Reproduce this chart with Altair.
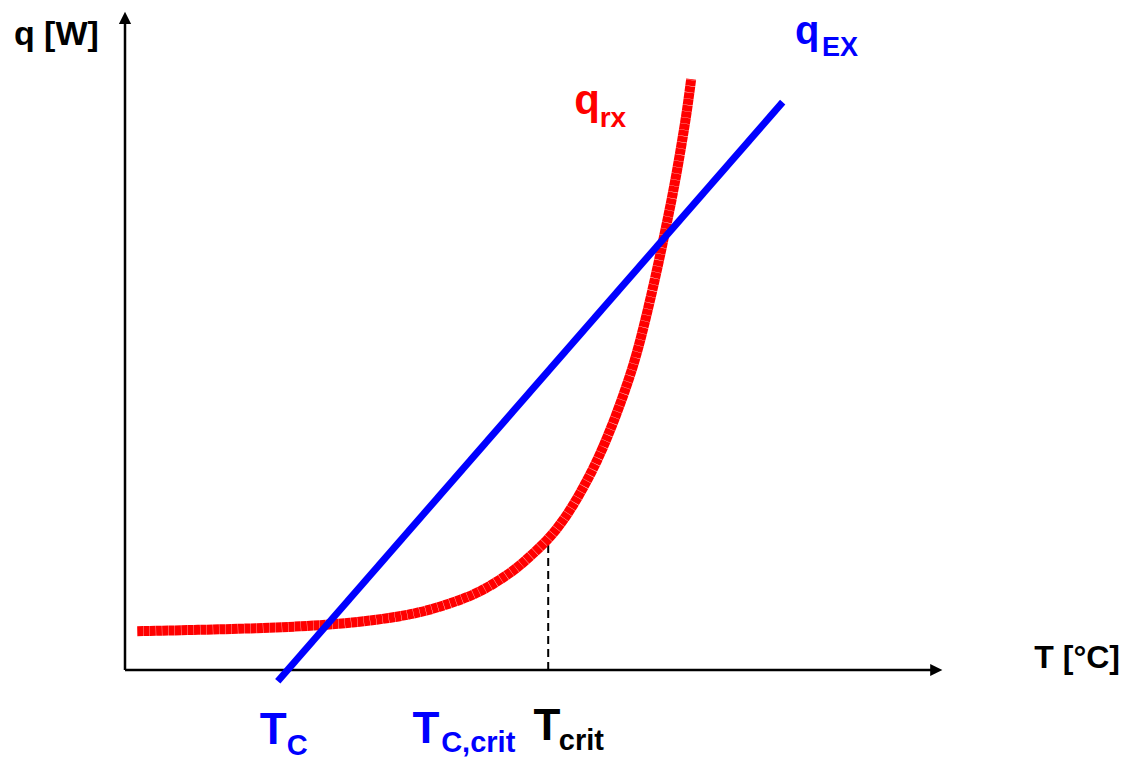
import altair as alt
import pandas as pd

# Schematic units: T (0-100) along the horizontal axis, q (0-100) along the vertical axis
rx_T = [1.5, 9.2, 15.3, 21.4, 27.5, 33.7, 37.3, 41.0, 43.5, 45.9, 48.0, 49.6, 51.8,
        53.9, 55.7, 57.5, 59.0, 60.6, 62.2, 63.2, 64.1, 64.9, 65.7, 66.5, 67.1,
        67.8, 68.4, 68.8, 69.3]
rx_q = [5.9, 6.1, 6.3, 6.6, 7.1, 8.1, 9.1, 10.6, 11.9, 13.7, 15.5, 17.3, 19.8,
        23.1, 26.8, 31.0, 35.2, 40.3, 46.1, 50.7, 55.3, 59.6, 64.2, 69.0, 72.7,
        77.5, 82.0, 85.1, 89.8]

ex_T = [18.7, 80.5]
ex_q = [-1.7, 86.3]

T_crit = 51.8
q_crit = 19.8

axis_T_end = 99.0
axis_q_end = 98.5

# annotation labels (anchor = left edge / text baseline, in T,q units)
lab_text = ["q [W]", "T [°C]", "q", "EX", "q", "rx", "T", "C", "T", "C,crit", "T", "crit"]
lab_T = [-13.6, 111.3, 82.0, 85.3, 55.0, 58.1, 16.5, 19.8, 35.2, 38.7, 50.0, 53.1]
lab_q = [95.0, 0.3, 95.1, 93.3, 84.5, 82.5, -11.3, -12.9, -11.1, -12.5, -10.6, -12.2]
lab_size = [34, 32, 40, 27, 42, 28, 44, 29, 44, 29, 44, 29]
lab_color = ["#000000", "#000000", "#0000FF", "#0000FF", "#FF0000", "#FF0000",
             "#0000FF", "#0000FF", "#0000FF", "#0000FF", "#000000", "#000000"]

xs = alt.Scale(domain=[0, 100], range=[117, 934])
ys = alt.Scale(domain=[0, 100], range=[662, 4])

rx_df = pd.DataFrame({"T": rx_T, "q": rx_q})
ex_df = pd.DataFrame({"T": ex_T, "q": ex_q})
lab_df = pd.DataFrame({"text": lab_text, "T": lab_T, "q": lab_q,
                       "fs": lab_size, "col": lab_color})

X = lambda f="T": alt.X(f"{f}:Q", scale=xs, axis=None)
Y = lambda f="q": alt.Y(f"{f}:Q", scale=ys, axis=None)

xaxis = alt.Chart(pd.DataFrame({"T": [0], "T2": [axis_T_end], "q": [0]})).mark_rule(
    color="black", strokeWidth=2.5).encode(x=X(), x2="T2:Q", y=Y())
yaxis = alt.Chart(pd.DataFrame({"T": [0], "q": [0], "q2": [axis_q_end]})).mark_rule(
    color="black", strokeWidth=2.5).encode(x=X(), y=Y(), y2="q2:Q")

arrow_up = alt.Chart(pd.DataFrame({"T": [0], "q": [99.1]})).mark_point(
    shape="M0,-1L1,1L-1,1Z", filled=True, color="black", opacity=1, size=150,
    strokeWidth=0).encode(x=X(), y=Y())
arrow_right = alt.Chart(pd.DataFrame({"T": [99.3], "q": [0]})).mark_point(
    shape="M-1,-1L1,0L-1,1Z", filled=True, color="black", opacity=1, size=150,
    strokeWidth=0).encode(x=X(), y=Y())

dashed = alt.Chart(pd.DataFrame({"T": [T_crit], "q": [0], "q2": [q_crit]})).mark_rule(
    color="black", strokeWidth=2, strokeDash=[8, 5]).encode(x=X(), y=Y(), y2="q2:Q")

ex_line = alt.Chart(ex_df).mark_line(color="#0000FF", strokeWidth=7, strokeCap="butt").encode(
    x=X(), y=Y())
rx_line = alt.Chart(rx_df).mark_line(color="#FF0000", strokeWidth=10, strokeCap="butt",
                                     strokeDash=[6, 0.3],
                                     interpolate="basis").encode(x=X(), y=Y())

labels = alt.Chart(lab_df).mark_text(
    align="left", baseline="alphabetic", font="Liberation Sans", fontWeight="bold").encode(
    x=X(), y=Y(), text="text:N",
    size=alt.Size("fs:Q", scale=None, legend=None),
    color=alt.Color("col:N", scale=None, legend=None))

chart = alt.layer(xaxis, yaxis, arrow_up, arrow_right, dashed, rx_line, ex_line, labels).properties(
    width=1114, height=750, autosize="none", padding=0
).configure_view(stroke=None)

chart.save("out.html", embed_options={"renderer": "svg", "actions": False})
